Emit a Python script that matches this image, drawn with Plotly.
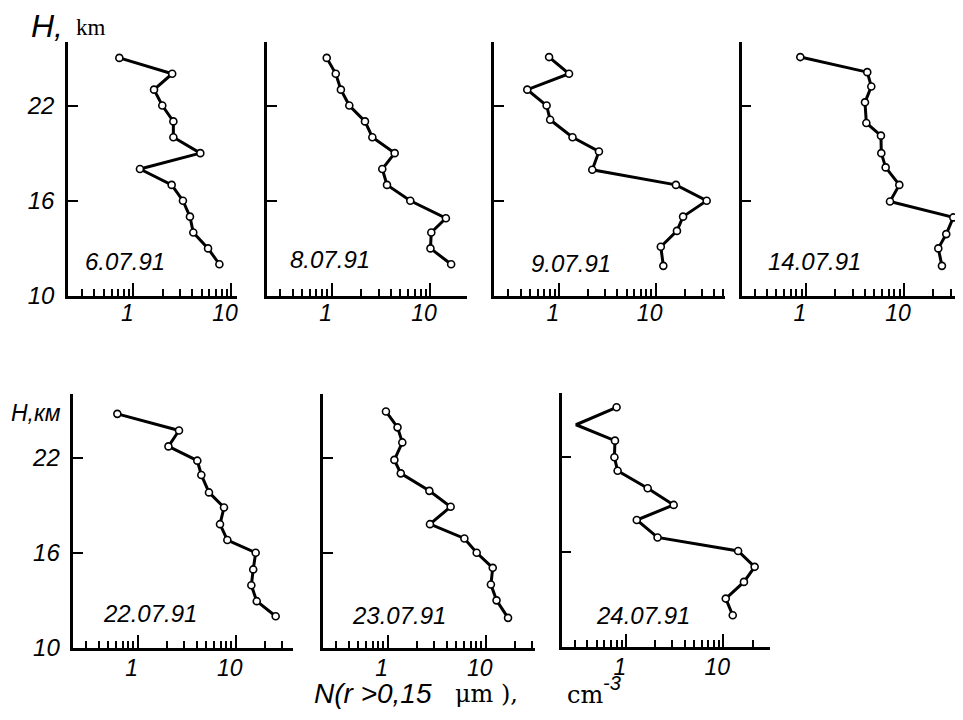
import plotly.graph_objects as go

# the page body has an 8px margin, so the figure is drawn 8px right/down
OFF = 8
W, H = 963 - OFF, 720 - OFF


def px(x):
    return (x - OFF) / W


def py(y):
    return 1 - (y - OFF) / H


dates = ["6.07.91", "8.07.91", "9.07.91", "14.07.91", "22.07.91", "23.07.91", "24.07.91"]

h1 = [25, 24, 23, 22, 21, 20, 19, 18, 17, 16, 15, 14, 13, 12]
n1 = [0.72, 2.5, 1.63, 1.98, 2.57, 2.57, 4.85, 1.17, 2.47, 3.22, 3.8, 4.11, 5.82, 7.6]

h2 = [25, 24, 23, 22, 21, 20, 19, 18, 17, 16, 14.9, 14, 13, 12]
n2 = [0.89, 1.1, 1.24, 1.51, 2.18, 2.59, 4.37, 3.27, 3.65, 6.3, 14.5, 10.3, 10.1, 16.4]

h3 = [25.05, 24, 23, 22, 21.1, 20, 19.1, 17.95, 17, 16, 15, 14.1, 13.1, 11.9]
n3 = [0.79, 1.27, 0.47, 0.745, 0.81, 1.38, 2.59, 2.21, 16.2, 33.7, 19.2, 16.6, 11.3, 12.0]

h4 = [25.05, 24.1, 23.2, 22.2, 20.9, 20.1, 19, 18.1, 17, 15.95, 14.95, 13.9, 13, 11.9]
n4 = [0.875, 4.22, 4.64, 4.0, 4.13, 5.82, 5.87, 6.5, 8.96, 7.2, 31.9, 27.0, 22.4, 24.4]

h5 = [24.75, 23.7, 22.7, 21.8, 20.9, 19.8, 18.85, 17.8, 16.8, 16, 14.95, 13.95, 12.95, 12]
n5 = [0.62, 2.64, 2.06, 4.06, 4.46, 5.34, 7.6, 6.92, 8.22, 16.0, 15.1, 14.45, 16.4, 25.6]

h6 = [24.9, 23.9, 22.95, 21.85, 21, 19.9, 18.9, 17.8, 16.9, 16, 15.05, 14, 13, 11.9]
n6 = [0.96, 1.26, 1.41, 1.17, 1.36, 2.66, 4.39, 2.7, 6.06, 8.09, 11.8, 11.3, 12.9, 16.9]

h7 = [25.1, 24, 23, 21.95, 21.1, 20, 18.95, 18, 16.9, 16.05, 15.05, 14.1, 13.05, 12]
n7 = [0.80, 0.306, 0.77, 0.76, 0.82, 1.67, 3.09, 1.29, 2.11, 14.2, 21.0, 16.3, 10.6, 12.5]

heights = [h1, h2, h3, h4, h5, h6, h7]
counts = [n1, n2, n3, n4, n5, n6, n7]
unmarked = {6: [1]}  # vertex drawn without circle

y_ticks = [10, 16, 22, 26]
y_labels = ["10", "16", "22", " "]
x_major = [1, 10]
x_major_labels = ["1", "10"]
minor_base = [0.3, 0.4, 0.5, 0.6, 0.7, 0.8, 0.9, 2, 3, 4, 5, 6, 7, 8, 9]
minor_extra = [[], [], [20, 30, 40, 50], [20, 30], [20, 30, 40], [20, 30], [20, 30]]

# layout geometry (pixels in the 963x720 window): x_left, x_right, y_top, y_bottom, log-range, label standoff
geom = [
    (68, 236.7, 42, 296, [-0.668, 1.058], -5),
    (267.3, 466.7, 42, 296, [-0.655, 1.373], -5),
    (494.3, 725, 42, 296, [-0.669, 1.717], -5),
    (741.7, 961.7, 42, 296, [-0.656, 1.589], -5),
    (73.3, 293.3, 394, 648, [-0.657, 1.588], -2),
    (323.3, 535, 394, 648, [-0.657, 1.503], -2),
    (561.7, 770, 393, 647, [-0.661, 1.480], -2),
]
date_pos = [(125, 262), (330, 260), (571, 263), (814, 262), (150, 613), (399, 615), (643, 615)]

SANS = "Liberation Sans"
SERIF = "DejaVu Serif"
TICKFONT = dict(family=SANS, size=23, color="black", style="italic")

fig = go.Figure()
layout = dict(
    template="none",
    width=W, height=H, margin=dict(l=0, r=0, t=0, b=0, autoexpand=False),
    paper_bgcolor="white", plot_bgcolor="white", showlegend=False,
)
annotations = []

for i in range(7):
    xl, xr, yt, yb, xrng, stand = geom[i]
    sfx = "" if i == 0 else str(i + 1)
    opac = [0 if j in unmarked.get(i, []) else 1 for j in range(len(heights[i]))]
    fig.add_trace(go.Scatter(
        x=counts[i], y=heights[i], mode="lines+markers",
        xaxis="x" + sfx, yaxis="y" + sfx,
        line=dict(color="black", width=3),
        marker=dict(symbol="circle", size=7, color="white", opacity=opac,
                    line=dict(color="black", width=1.6)),
        hoverinfo="skip", cliponaxis=False,
    ))
    show_ylab = i in (0, 4)
    layout["xaxis" + sfx] = dict(
        type="log", range=xrng, domain=[px(xl), px(xr)], anchor="y" + sfx,
        automargin=False,
        showline=True, linecolor="black", linewidth=2.5, showgrid=False, zeroline=False,
        ticks="inside", ticklen=13, tickwidth=2, tickcolor="black",
        tickmode="array", tickvals=x_major, ticktext=x_major_labels,
        tickfont=TICKFONT, ticklabelshift=-6, ticklabelstandoff=stand,
        minor=dict(ticks="inside", ticklen=7, tickwidth=1.5, tickcolor="black",
                   tickmode="array", tickvals=minor_base + minor_extra[i], showgrid=False),
    )
    ydict = dict(
        range=[10, 26], domain=[py(yb), py(yt)], anchor="x" + sfx,
        automargin=False,
        showline=True, linecolor="black", linewidth=2.5, showgrid=False, zeroline=False,
        ticks="inside", ticklen=10, tickwidth=2, tickcolor="black",
        tickmode="array", tickvals=y_ticks, showticklabels=show_ylab,
    )
    if show_ylab:
        ydict.update(ticktext=y_labels,
                     tickfont=dict(family=SANS, size=24, color="black", style="italic"),
                     ticklabelstandoff=6)
    layout["yaxis" + sfx] = ydict
    dx, dy = date_pos[i]
    annotations.append(dict(
        x=px(dx), y=py(dy), xref="paper", yref="paper", text=dates[i],
        showarrow=False, xanchor="center", yanchor="middle",
        font=dict(family=SANS, size=24, color="black", style="italic"),
    ))

# axis titles
annotations += [
    dict(x=px(29), y=py(26), xref="paper", yref="paper", text="H,", showarrow=False,
         xanchor="left", yanchor="middle",
         font=dict(family=SANS, size=32, color="black", style="italic")),
    dict(x=px(74), y=py(28), xref="paper", yref="paper", text="km", showarrow=False,
         xanchor="left", yanchor="middle",
         font=dict(family="Liberation Serif", size=23, color="black")),
    dict(x=px(9), y=py(413), xref="paper", yref="paper", text="H,км", showarrow=False,
         xanchor="left", yanchor="middle",
         font=dict(family=SANS, size=23, color="black", style="italic")),
    dict(x=px(312), y=py(693), xref="paper", yref="paper", text="N(r >0,15",
         showarrow=False, xanchor="left", yanchor="middle",
         font=dict(family=SANS, size=28, color="black", style="italic")),
    dict(x=px(453), y=py(694), xref="paper", yref="paper", text="μm ),",
         showarrow=False, xanchor="left", yanchor="middle",
         font=dict(family=SERIF, size=24, color="black")),
    dict(x=px(565), y=py(695), xref="paper", yref="paper", text="cm",
         showarrow=False, xanchor="left", yanchor="middle",
         font=dict(family=SERIF, size=24, color="black")),
    dict(x=px(601), y=py(683), xref="paper", yref="paper", text="-3",
         showarrow=False, xanchor="left", yanchor="middle",
         font=dict(family=SANS, size=20, color="black", style="italic")),
]
layout["annotations"] = annotations
fig.update_layout(**layout)
fig.write_html("out.html")
